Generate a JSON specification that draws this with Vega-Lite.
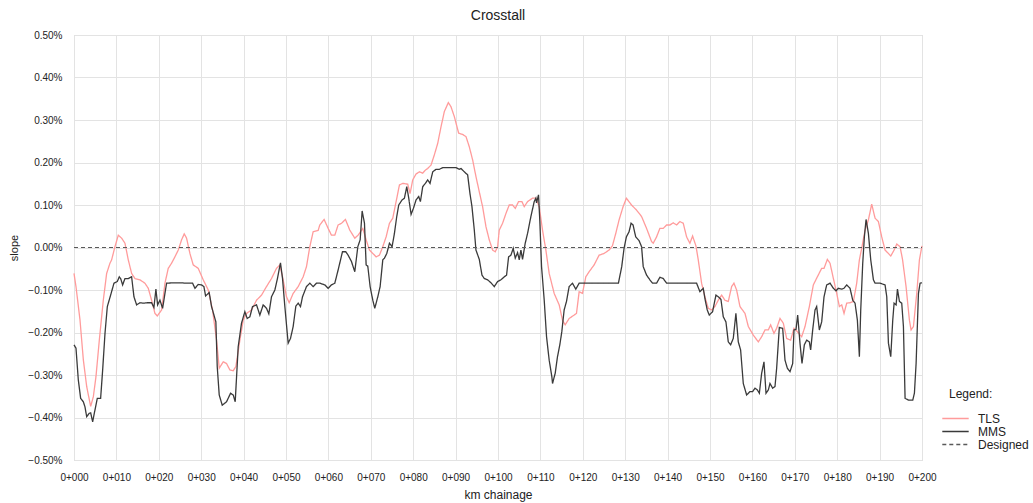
{
"$schema":"https://vega.github.io/schema/vega-lite/v6.json",
"width":848,"height":425,
"autosize":{"type":"none"},
"padding":{"left":74,"top":35,"right":111,"bottom":43},
"background":"white",
"config":{"font":"Liberation Sans","view":{"stroke":"#d0d0d0","strokeWidth":1}},
"title":{"text":"Crosstall","fontSize":14,"fontWeight":"normal","color":"#222","offset":7,"anchor":"middle"},
"datasets":{
"tls":[{"x":0,"y":-0.061},{"x":0.47,"y":-0.092},{"x":1.41,"y":-0.170},{"x":2.20,"y":-0.264},{"x":2.99,"y":-0.327},{"x":3.93,"y":-0.374},{"x":4.56,"y":-0.351},{"x":5.18,"y":-0.304},{"x":5.97,"y":-0.218},{"x":6.91,"y":-0.124},{"x":7.70,"y":-0.061},{"x":8.48,"y":-0.037},{"x":8.88,"y":-0.029},{"x":9.66,"y":0.002},{"x":10.45,"y":0.029},{"x":11.23,"y":0.022},{"x":12.02,"y":0.010},{"x":12.80,"y":-0.029},{"x":13.59,"y":-0.061},{"x":14.38,"y":-0.073},{"x":15.55,"y":-0.076},{"x":16.73,"y":-0.084},{"x":17.52,"y":-0.096},{"x":18.30,"y":-0.124},{"x":19.09,"y":-0.155},{"x":19.64,"y":-0.161},{"x":20.66,"y":-0.147},{"x":21.45,"y":-0.084},{"x":22.23,"y":-0.049},{"x":23.02,"y":-0.037},{"x":23.80,"y":-0.022},{"x":24.59,"y":-0.006},{"x":25.37,"y":0.018},{"x":26.00,"y":0.032},{"x":26.55,"y":0.022},{"x":27.34,"y":-0.014},{"x":28.12,"y":-0.041},{"x":29.30,"y":-0.049},{"x":30.48,"y":-0.076},{"x":31.66,"y":-0.100},{"x":32.68,"y":-0.147},{"x":33.62,"y":-0.218},{"x":34.25,"y":-0.284},{"x":35.19,"y":-0.269},{"x":35.98,"y":-0.273},{"x":36.76,"y":-0.288},{"x":37.55,"y":-0.290},{"x":38.18,"y":-0.280},{"x":39.12,"y":-0.218},{"x":39.91,"y":-0.171},{"x":40.69,"y":-0.155},{"x":41.87,"y":-0.147},{"x":43.05,"y":-0.124},{"x":44.23,"y":-0.112},{"x":45.40,"y":-0.092},{"x":46.58,"y":-0.073},{"x":47.76,"y":-0.049},{"x":48.55,"y":-0.041},{"x":49.33,"y":-0.076},{"x":50.12,"y":-0.116},{"x":50.75,"y":-0.130},{"x":51.69,"y":-0.108},{"x":52.87,"y":-0.092},{"x":54.05,"y":-0.069},{"x":54.83,"y":-0.045},{"x":55.62,"y":0.002},{"x":56.40,"y":0.037},{"x":57.58,"y":0.040},{"x":57.97,"y":0.053},{"x":58.99,"y":0.066},{"x":59.94,"y":0.045},{"x":60.72,"y":0.029},{"x":61.51,"y":0.029},{"x":62.29,"y":0.053},{"x":63.08,"y":0.057},{"x":64.02,"y":0.066},{"x":65.04,"y":0.041},{"x":66.22,"y":0.022},{"x":67.01,"y":0.029},{"x":68.12,"y":0.045},{"x":68.90,"y":0.018},{"x":69.69,"y":-0.006},{"x":70.47,"y":-0.014},{"x":71.26,"y":-0.022},{"x":72.04,"y":-0.018},{"x":72.83,"y":0.002},{"x":73.61,"y":0.025},{"x":74.40,"y":0.057},{"x":75.18,"y":0.069},{"x":75.97,"y":0.108},{"x":76.75,"y":0.147},{"x":77.54,"y":0.151},{"x":78.71,"y":0.149},{"x":79.26,"y":0.127},{"x":79.89,"y":0.159},{"x":80.68,"y":0.173},{"x":81.46,"y":0.178},{"x":82.24,"y":0.175},{"x":82.87,"y":0.182},{"x":83.42,"y":0.186},{"x":84.21,"y":0.194},{"x":84.99,"y":0.218},{"x":85.78,"y":0.245},{"x":86.56,"y":0.284},{"x":87.35,"y":0.320},{"x":88.29,"y":0.341},{"x":88.92,"y":0.331},{"x":89.70,"y":0.308},{"x":90.72,"y":0.269},{"x":91.66,"y":0.266},{"x":92.45,"y":0.261},{"x":93.23,"y":0.237},{"x":94.02,"y":0.206},{"x":94.80,"y":0.167},{"x":95.59,"y":0.131},{"x":96.37,"y":0.096},{"x":97.16,"y":0.049},{"x":97.94,"y":0.018},{"x":98.73,"y":-0.006},{"x":99.36,"y":-0.010},{"x":99.91,"y":0.002},{"x":100.30,"y":0.041},{"x":101.08,"y":0.057},{"x":101.87,"y":0.080},{"x":102.65,"y":0.100},{"x":103.44,"y":0.100},{"x":104.07,"y":0.092},{"x":104.85,"y":0.108},{"x":105.64,"y":0.108},{"x":106.19,"y":0.096},{"x":106.97,"y":0.108},{"x":108.15,"y":0.116},{"x":108.93,"y":0.116},{"x":109.72,"y":0.096},{"x":110.50,"y":0.041},{"x":111.29,"y":-0.006},{"x":112.07,"y":-0.061},{"x":113.25,"y":-0.108},{"x":114.43,"y":-0.135},{"x":115.21,"y":-0.171},{"x":115.84,"y":-0.182},{"x":116.78,"y":-0.167},{"x":117.96,"y":-0.159},{"x":118.51,"y":-0.155},{"x":119.14,"y":-0.104},{"x":119.92,"y":-0.108},{"x":120.71,"y":-0.069},{"x":121.49,"y":-0.057},{"x":122.67,"y":-0.041},{"x":123.85,"y":-0.018},{"x":125.02,"y":-0.014},{"x":126.20,"y":-0.006},{"x":126.99,"y":0.004},{"x":127.77,"y":0.033},{"x":128.56,"y":0.065},{"x":129.50,"y":0.096},{"x":130.28,"y":0.116},{"x":131.49,"y":0.100},{"x":132.68,"y":0.088},{"x":133.86,"y":0.073},{"x":135.04,"y":0.045},{"x":136.22,"y":0.014},{"x":136.61,"y":0.010},{"x":137.40,"y":0.025},{"x":138.18,"y":0.045},{"x":138.97,"y":0.045},{"x":139.76,"y":0.053},{"x":140.54,"y":0.053},{"x":141.33,"y":0.058},{"x":142.12,"y":0.053},{"x":142.90,"y":0.061},{"x":143.69,"y":0.057},{"x":144.48,"y":0.025},{"x":145.26,"y":0.010},{"x":145.89,"y":0.027},{"x":146.68,"y":0.004},{"x":147.23,"y":-0.029},{"x":148.02,"y":-0.084},{"x":148.80,"y":-0.116},{"x":149.59,"y":-0.143},{"x":150.38,"y":-0.147},{"x":151.16,"y":-0.139},{"x":151.95,"y":-0.124},{"x":152.74,"y":-0.112},{"x":153.52,"y":-0.124},{"x":154.31,"y":-0.127},{"x":155.10,"y":-0.092},{"x":155.65,"y":-0.084},{"x":156.28,"y":-0.100},{"x":157.07,"y":-0.139},{"x":158.25,"y":-0.155},{"x":159.04,"y":-0.186},{"x":160.21,"y":-0.206},{"x":161.39,"y":-0.222},{"x":162.18,"y":-0.210},{"x":162.97,"y":-0.194},{"x":163.75,"y":-0.194},{"x":164.30,"y":-0.182},{"x":165.09,"y":-0.202},{"x":165.72,"y":-0.190},{"x":166.51,"y":-0.167},{"x":167.29,"y":-0.178},{"x":168.08,"y":-0.214},{"x":169.02,"y":-0.218},{"x":169.81,"y":-0.190},{"x":170.60,"y":-0.198},{"x":171.62,"y":-0.210},{"x":172.41,"y":-0.186},{"x":173.43,"y":-0.139},{"x":174.37,"y":-0.088},{"x":175.32,"y":-0.069},{"x":176.34,"y":-0.049},{"x":176.89,"y":-0.049},{"x":177.68,"y":-0.028},{"x":178.31,"y":-0.037},{"x":179.10,"y":-0.073},{"x":179.89,"y":-0.108},{"x":180.51,"y":-0.139},{"x":181.06,"y":-0.135},{"x":181.61,"y":-0.155},{"x":182.24,"y":-0.131},{"x":183.03,"y":-0.130},{"x":183.82,"y":-0.127},{"x":184.60,"y":-0.084},{"x":185.23,"y":-0.029},{"x":185.78,"y":-0.002},{"x":186.57,"y":0.041},{"x":187.36,"y":0.065},{"x":188.14,"y":0.102},{"x":188.93,"y":0.069},{"x":189.72,"y":0.061},{"x":190.50,"y":0.025},{"x":191.29,"y":-0.006},{"x":192.08,"y":-0.014},{"x":192.63,"y":-0.020},{"x":193.42,"y":-0.006},{"x":194.05,"y":0.008},{"x":194.83,"y":0.002},{"x":195.42,"y":-0.029},{"x":196.24,"y":-0.092},{"x":197.03,"y":-0.171},{"x":197.42,"y":-0.194},{"x":197.98,"y":-0.186},{"x":198.76,"y":-0.108},{"x":199.39,"y":-0.029},{"x":200,"y":0.004}],
"mms":[{"x":0,"y":-0.229},{"x":0.47,"y":-0.237},{"x":1.02,"y":-0.312},{"x":1.57,"y":-0.355},{"x":2.20,"y":-0.363},{"x":2.59,"y":-0.375},{"x":2.99,"y":-0.398},{"x":3.61,"y":-0.390},{"x":3.93,"y":-0.389},{"x":4.40,"y":-0.410},{"x":4.95,"y":-0.382},{"x":5.50,"y":-0.355},{"x":6.28,"y":-0.355},{"x":6.76,"y":-0.288},{"x":7.31,"y":-0.202},{"x":7.86,"y":-0.139},{"x":8.64,"y":-0.112},{"x":9.43,"y":-0.084},{"x":10.21,"y":-0.080},{"x":10.68,"y":-0.069},{"x":11.00,"y":-0.073},{"x":11.47,"y":-0.088},{"x":12.02,"y":-0.073},{"x":12.80,"y":-0.073},{"x":13.59,"y":-0.069},{"x":14.14,"y":-0.116},{"x":14.77,"y":-0.135},{"x":15.55,"y":-0.130},{"x":16.34,"y":-0.131},{"x":17.28,"y":-0.130},{"x":18.30,"y":-0.130},{"x":18.85,"y":-0.141},{"x":19.32,"y":-0.098},{"x":19.72,"y":-0.135},{"x":20.27,"y":-0.124},{"x":20.90,"y":-0.143},{"x":21.45,"y":-0.108},{"x":21.84,"y":-0.084},{"x":23.41,"y":-0.083},{"x":24.98,"y":-0.083},{"x":26.55,"y":-0.084},{"x":27.97,"y":-0.084},{"x":28.52,"y":-0.096},{"x":29.30,"y":-0.087},{"x":30.09,"y":-0.088},{"x":30.64,"y":-0.092},{"x":31.03,"y":-0.114},{"x":31.89,"y":-0.106},{"x":32.44,"y":-0.139},{"x":33.46,"y":-0.175},{"x":33.78,"y":-0.280},{"x":34.25,"y":-0.347},{"x":34.96,"y":-0.371},{"x":35.98,"y":-0.363},{"x":36.92,"y":-0.343},{"x":37.55,"y":-0.347},{"x":38.02,"y":-0.363},{"x":38.73,"y":-0.233},{"x":39.51,"y":-0.178},{"x":40.30,"y":-0.151},{"x":40.85,"y":-0.167},{"x":41.48,"y":-0.163},{"x":42.11,"y":-0.139},{"x":43.05,"y":-0.135},{"x":43.83,"y":-0.159},{"x":44.62,"y":-0.135},{"x":45.40,"y":-0.143},{"x":45.95,"y":-0.156},{"x":46.58,"y":-0.116},{"x":47.37,"y":-0.100},{"x":47.92,"y":-0.076},{"x":48.70,"y":-0.036},{"x":49.18,"y":-0.073},{"x":49.73,"y":-0.139},{"x":50.51,"y":-0.225},{"x":51.06,"y":-0.214},{"x":51.69,"y":-0.186},{"x":52.32,"y":-0.138},{"x":52.87,"y":-0.131},{"x":53.42,"y":-0.139},{"x":53.89,"y":-0.116},{"x":54.83,"y":-0.092},{"x":55.62,"y":-0.084},{"x":56.40,"y":-0.092},{"x":57.19,"y":-0.084},{"x":57.97,"y":-0.084},{"x":59.15,"y":-0.088},{"x":59.94,"y":-0.096},{"x":60.72,"y":-0.088},{"x":61.51,"y":-0.084},{"x":62.29,"y":-0.053},{"x":63.32,"y":-0.010},{"x":64.10,"y":-0.010},{"x":64.65,"y":-0.018},{"x":65.44,"y":-0.033},{"x":66.22,"y":-0.057},{"x":66.94,"y":0.002},{"x":67.49,"y":0.018},{"x":67.96,"y":0.086},{"x":68.51,"y":0.057},{"x":68.90,"y":-0.041},{"x":69.29,"y":-0.044},{"x":69.84,"y":-0.092},{"x":70.47,"y":-0.124},{"x":70.94,"y":-0.143},{"x":71.65,"y":-0.116},{"x":72.20,"y":-0.092},{"x":72.83,"y":-0.029},{"x":73.22,"y":-0.025},{"x":73.77,"y":-0.014},{"x":74.40,"y":0.010},{"x":75.02,"y":0.002},{"x":75.57,"y":0.033},{"x":76.12,"y":0.073},{"x":76.59,"y":0.100},{"x":77.38,"y":0.112},{"x":77.93,"y":0.116},{"x":78.48,"y":0.143},{"x":78.95,"y":0.116},{"x":79.50,"y":0.078},{"x":80.05,"y":0.092},{"x":80.68,"y":0.112},{"x":81.30,"y":0.120},{"x":81.70,"y":0.108},{"x":82.24,"y":0.143},{"x":82.87,"y":0.151},{"x":83.42,"y":0.159},{"x":83.97,"y":0.151},{"x":84.60,"y":0.178},{"x":85.38,"y":0.184},{"x":86.17,"y":0.184},{"x":86.95,"y":0.188},{"x":88.52,"y":0.188},{"x":90.09,"y":0.188},{"x":90.88,"y":0.184},{"x":91.27,"y":0.186},{"x":92.06,"y":0.178},{"x":92.84,"y":0.171},{"x":93.39,"y":0.127},{"x":93.86,"y":0.096},{"x":94.41,"y":0.041},{"x":94.80,"y":-0.006},{"x":95.59,"y":-0.028},{"x":96.22,"y":-0.065},{"x":96.77,"y":-0.073},{"x":97.55,"y":-0.076},{"x":98.34,"y":-0.083},{"x":99.12,"y":-0.092},{"x":99.91,"y":-0.080},{"x":100.69,"y":-0.076},{"x":101.48,"y":-0.069},{"x":102.02,"y":-0.065},{"x":102.50,"y":-0.022},{"x":103.05,"y":-0.018},{"x":103.59,"y":-0.002},{"x":104.07,"y":-0.025},{"x":104.62,"y":-0.012},{"x":105.01,"y":-0.029},{"x":105.40,"y":-0.006},{"x":105.79,"y":-0.028},{"x":106.42,"y":0.010},{"x":106.97,"y":0.033},{"x":107.76,"y":0.073},{"x":108.54,"y":0.108},{"x":108.93,"y":0.116},{"x":109.09,"y":0.105},{"x":109.56,"y":0.124},{"x":109.87,"y":0.061},{"x":110.27,"y":-0.045},{"x":110.90,"y":-0.124},{"x":111.45,"y":-0.210},{"x":112.07,"y":-0.265},{"x":112.70,"y":-0.304},{"x":112.86,"y":-0.320},{"x":113.49,"y":-0.296},{"x":114.03,"y":-0.257},{"x":114.58,"y":-0.229},{"x":115.05,"y":-0.198},{"x":115.60,"y":-0.147},{"x":116.15,"y":-0.127},{"x":116.78,"y":-0.092},{"x":117.57,"y":-0.084},{"x":118.35,"y":-0.098},{"x":119.14,"y":-0.084},{"x":120.71,"y":-0.084},{"x":125.42,"y":-0.084},{"x":128.40,"y":-0.084},{"x":129.18,"y":-0.045},{"x":129.73,"y":-0.002},{"x":130.28,"y":0.025},{"x":130.91,"y":0.037},{"x":131.38,"y":0.057},{"x":131.85,"y":0.053},{"x":132.48,"y":0.025},{"x":133.27,"y":0.016},{"x":133.86,"y":0.002},{"x":134.25,"y":-0.045},{"x":135.04,"y":-0.065},{"x":135.82,"y":-0.076},{"x":136.45,"y":-0.084},{"x":137.40,"y":-0.084},{"x":138.18,"y":-0.070},{"x":138.97,"y":-0.073},{"x":139.76,"y":-0.084},{"x":146.84,"y":-0.084},{"x":147.62,"y":-0.104},{"x":148.41,"y":-0.096},{"x":148.80,"y":-0.120},{"x":149.35,"y":-0.147},{"x":149.83,"y":-0.159},{"x":150.61,"y":-0.151},{"x":151.40,"y":-0.112},{"x":151.95,"y":-0.116},{"x":152.58,"y":-0.122},{"x":153.13,"y":-0.163},{"x":153.76,"y":-0.175},{"x":154.31,"y":-0.222},{"x":154.86,"y":-0.229},{"x":155.49,"y":-0.214},{"x":156.11,"y":-0.155},{"x":156.67,"y":-0.222},{"x":157.22,"y":-0.241},{"x":157.85,"y":-0.320},{"x":158.64,"y":-0.347},{"x":159.43,"y":-0.339},{"x":160.06,"y":-0.339},{"x":160.61,"y":-0.331},{"x":161.16,"y":-0.335},{"x":161.64,"y":-0.343},{"x":162.18,"y":-0.296},{"x":162.73,"y":-0.269},{"x":163.21,"y":-0.343},{"x":163.76,"y":-0.335},{"x":164.15,"y":-0.320},{"x":164.78,"y":-0.331},{"x":165.33,"y":-0.327},{"x":165.72,"y":-0.284},{"x":166.35,"y":-0.188},{"x":167.14,"y":-0.190},{"x":167.69,"y":-0.265},{"x":168.24,"y":-0.284},{"x":168.87,"y":-0.292},{"x":169.50,"y":-0.273},{"x":169.81,"y":-0.194},{"x":170.28,"y":-0.193},{"x":170.68,"y":-0.159},{"x":171.23,"y":-0.226},{"x":171.70,"y":-0.273},{"x":172.25,"y":-0.229},{"x":172.80,"y":-0.218},{"x":173.43,"y":-0.222},{"x":173.74,"y":-0.241},{"x":174.22,"y":-0.194},{"x":174.77,"y":-0.147},{"x":175.16,"y":-0.139},{"x":175.79,"y":-0.194},{"x":176.34,"y":-0.175},{"x":176.89,"y":-0.116},{"x":177.52,"y":-0.088},{"x":178.31,"y":-0.084},{"x":179.10,"y":-0.096},{"x":179.72,"y":-0.102},{"x":180.27,"y":-0.096},{"x":181.06,"y":-0.098},{"x":181.61,"y":-0.096},{"x":182.24,"y":-0.088},{"x":183.03,"y":-0.096},{"x":183.66,"y":-0.124},{"x":184.21,"y":-0.131},{"x":184.76,"y":-0.171},{"x":185.23,"y":-0.257},{"x":185.55,"y":-0.147},{"x":186.02,"y":-0.037},{"x":186.41,"y":0.025},{"x":186.81,"y":0.066},{"x":187.36,"y":0.033},{"x":187.91,"y":-0.029},{"x":188.54,"y":-0.076},{"x":188.93,"y":-0.084},{"x":190.11,"y":-0.084},{"x":191.29,"y":-0.088},{"x":191.69,"y":-0.116},{"x":192.08,"y":-0.225},{"x":192.63,"y":-0.257},{"x":193.10,"y":-0.171},{"x":193.42,"y":-0.131},{"x":193.89,"y":-0.135},{"x":194.21,"y":-0.098},{"x":194.68,"y":-0.127},{"x":195.22,"y":-0.131},{"x":195.62,"y":-0.186},{"x":196.01,"y":-0.355},{"x":196.80,"y":-0.359},{"x":197.82,"y":-0.359},{"x":198.21,"y":-0.343},{"x":198.61,"y":-0.273},{"x":199.16,"y":-0.108},{"x":199.55,"y":-0.084},{"x":200,"y":-0.083}],
"designed":[{"x":0,"y":0},{"x":200,"y":0}]
},
"encoding":{
"x":{"field":"x","type":"quantitative","scale":{"domain":[0,200],"nice":false,"zero":false},
"axis":{"values":[0,10,20,30,40,50,60,70,80,90,100,110,120,130,140,150,160,170,180,190,200],"labelExpr":"'0+' + format(datum.value, '03d')","title":"km chainage","titleFontSize":12,"titleFontWeight":"normal","titleColor":"#222","titlePadding":7,"labelFontSize":10,"labelColor":"#222","labelPadding":12,"ticks":false,"domain":false,"gridColor":"#e3e3e3","labelFlush":false}},
"y":{"field":"y","type":"quantitative","scale":{"domain":[-0.5,0.5],"nice":false,"zero":false},
"axis":{"values":[-0.5,-0.4,-0.3,-0.2,-0.1,0,0.1,0.2,0.3,0.4,0.5],"labelExpr":"format(datum.value, '.2f') + '%'","title":"slope","titleFontSize":11,"titleFontWeight":"normal","titleColor":"#222","titlePadding":8,"labelFontSize":10,"labelColor":"#222","labelPadding":12,"ticks":false,"domain":false,"gridColor":"#e3e3e3"}}
},
"layer":[
{"data":{"name":"tls"},"mark":{"type":"line","strokeWidth":1.3,"interpolate":"linear"},
"encoding":{"color":{"datum":"TLS","type":"nominal","scale":{"domain":["TLS","MMS","Designed"],"range":["#ff9b9b","#3a3a3a","#595959"]},
"legend":{"title":"Legend:","orient":"none","legendX":875,"legendY":354,"titleFontSize":12,"titleFontWeight":"normal","titleColor":"#222","titlePadding":11,"labelFontSize":12,"labelColor":"#222","labelOffset":16,"rowPadding":-1,"symbolType":"M-2.4,0H2.4","symbolSize":121,"symbolStrokeWidth":1.3,"symbolFillColor":"transparent"}},
"strokeDash":{"datum":"TLS","type":"nominal","scale":{"domain":["TLS","MMS","Designed"],"range":[[1,0],[1,0],[4,3]]},
"legend":{"title":"Legend:","orient":"none","legendX":875,"legendY":354,"titleFontSize":12,"titleFontWeight":"normal","titleColor":"#222","titlePadding":11,"labelFontSize":12,"labelColor":"#222","labelOffset":16,"rowPadding":-1,"symbolType":"M-2.4,0H2.4","symbolSize":121,"symbolStrokeWidth":1.3,"symbolFillColor":"transparent"}}}},
{"data":{"name":"mms"},"mark":{"type":"line","strokeWidth":1.3},
"encoding":{"color":{"datum":"MMS","type":"nominal"},"strokeDash":{"datum":"MMS","type":"nominal"}}},
{"data":{"name":"designed"},"mark":{"type":"line","strokeWidth":1.2},
"encoding":{"color":{"datum":"Designed","type":"nominal"},"strokeDash":{"datum":"Designed","type":"nominal"}}}
]
}
